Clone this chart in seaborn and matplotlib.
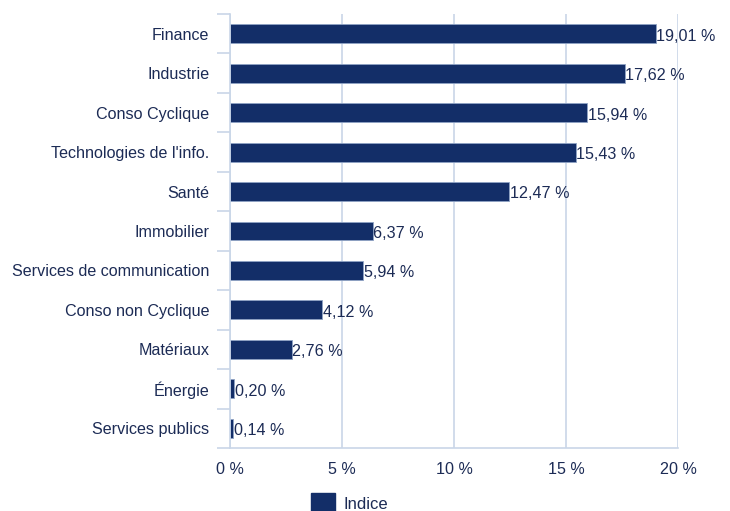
import matplotlib
matplotlib.use("Agg")
import matplotlib.pyplot as plt
import seaborn as sns
import pandas as pd
from matplotlib.ticker import FixedLocator
from matplotlib.patches import Patch

categories = ["Finance", "Industrie", "Conso Cyclique", "Technologies de l'info.", "Santé",
              "Immobilier", "Services de communication", "Conso non Cyclique", "Matériaux",
              "Énergie", "Services publics"]
values = [19.01, 17.62, 15.94, 15.43, 12.47, 6.37, 5.94, 4.12, 2.76, 0.20, 0.14]
xticks = [0, 5, 10, 15, 20]
series_name = "Indice"

navy = "#132e68"
text_c = "#1c2b55"
grid_c = "#c9d6e8"
fs = 11.6

sns.set_theme(style="white")
plt.rcParams['font.family'] = ['Liberation Sans', 'DejaVu Sans']

df = pd.DataFrame({"cat": categories, "val": values})

fig = plt.figure(figsize=(7.3, 5.11), dpi=100)
ax = fig.add_axes([230/730, 1-448/511, 448/730, 434/511])
sns.barplot(data=df, y="cat", x="val", color=navy, saturation=1, width=0.48,
            edgecolor="#8fa3c4", linewidth=0.6, ax=ax)

ax.set_xlim(0, 20)
ax.set_ylim(len(categories)-0.5, -0.5)
ax.set_xticks(xticks)
ax.set_xticklabels([f"{t} %" for t in xticks])
ax.set_xlabel("")
ax.set_ylabel("")
ax.grid(axis="x", color=grid_c, linewidth=1.2)
ax.set_axisbelow(True)
for s in ["top", "right"]:
    ax.spines[s].set_visible(False)
for s in ["left", "bottom"]:
    ax.spines[s].set_color(grid_c)
    ax.spines[s].set_linewidth(1.2)

ax.tick_params(axis="y", length=0, pad=15, labelsize=fs, labelcolor=text_c)
ax.tick_params(axis="x", length=0, pad=10, labelsize=fs, labelcolor=text_c)
ax.yaxis.set_minor_locator(FixedLocator([i - 0.5 for i in range(len(categories)+1)]))
ax.tick_params(axis="y", which="minor", length=9.5, color=grid_c, width=1.2, left=True)

for i, v in enumerate(values):
    ax.text(v + 0.02, i + 0.06, f"{v:.2f} %".replace(".", ","), va="center", ha="left",
            fontsize=fs, color=text_c)

fig.legend(handles=[Patch(facecolor=navy, edgecolor=navy, label=series_name)],
           loc="upper left", bbox_to_anchor=(298/730, 1-480/511), frameon=False,
           fontsize=fs + 0.4, labelcolor=text_c, handlelength=1.4, handleheight=1.5,
           handletextpad=0.55, borderpad=0.3)

fig.savefig("out.png", dpi=100)
